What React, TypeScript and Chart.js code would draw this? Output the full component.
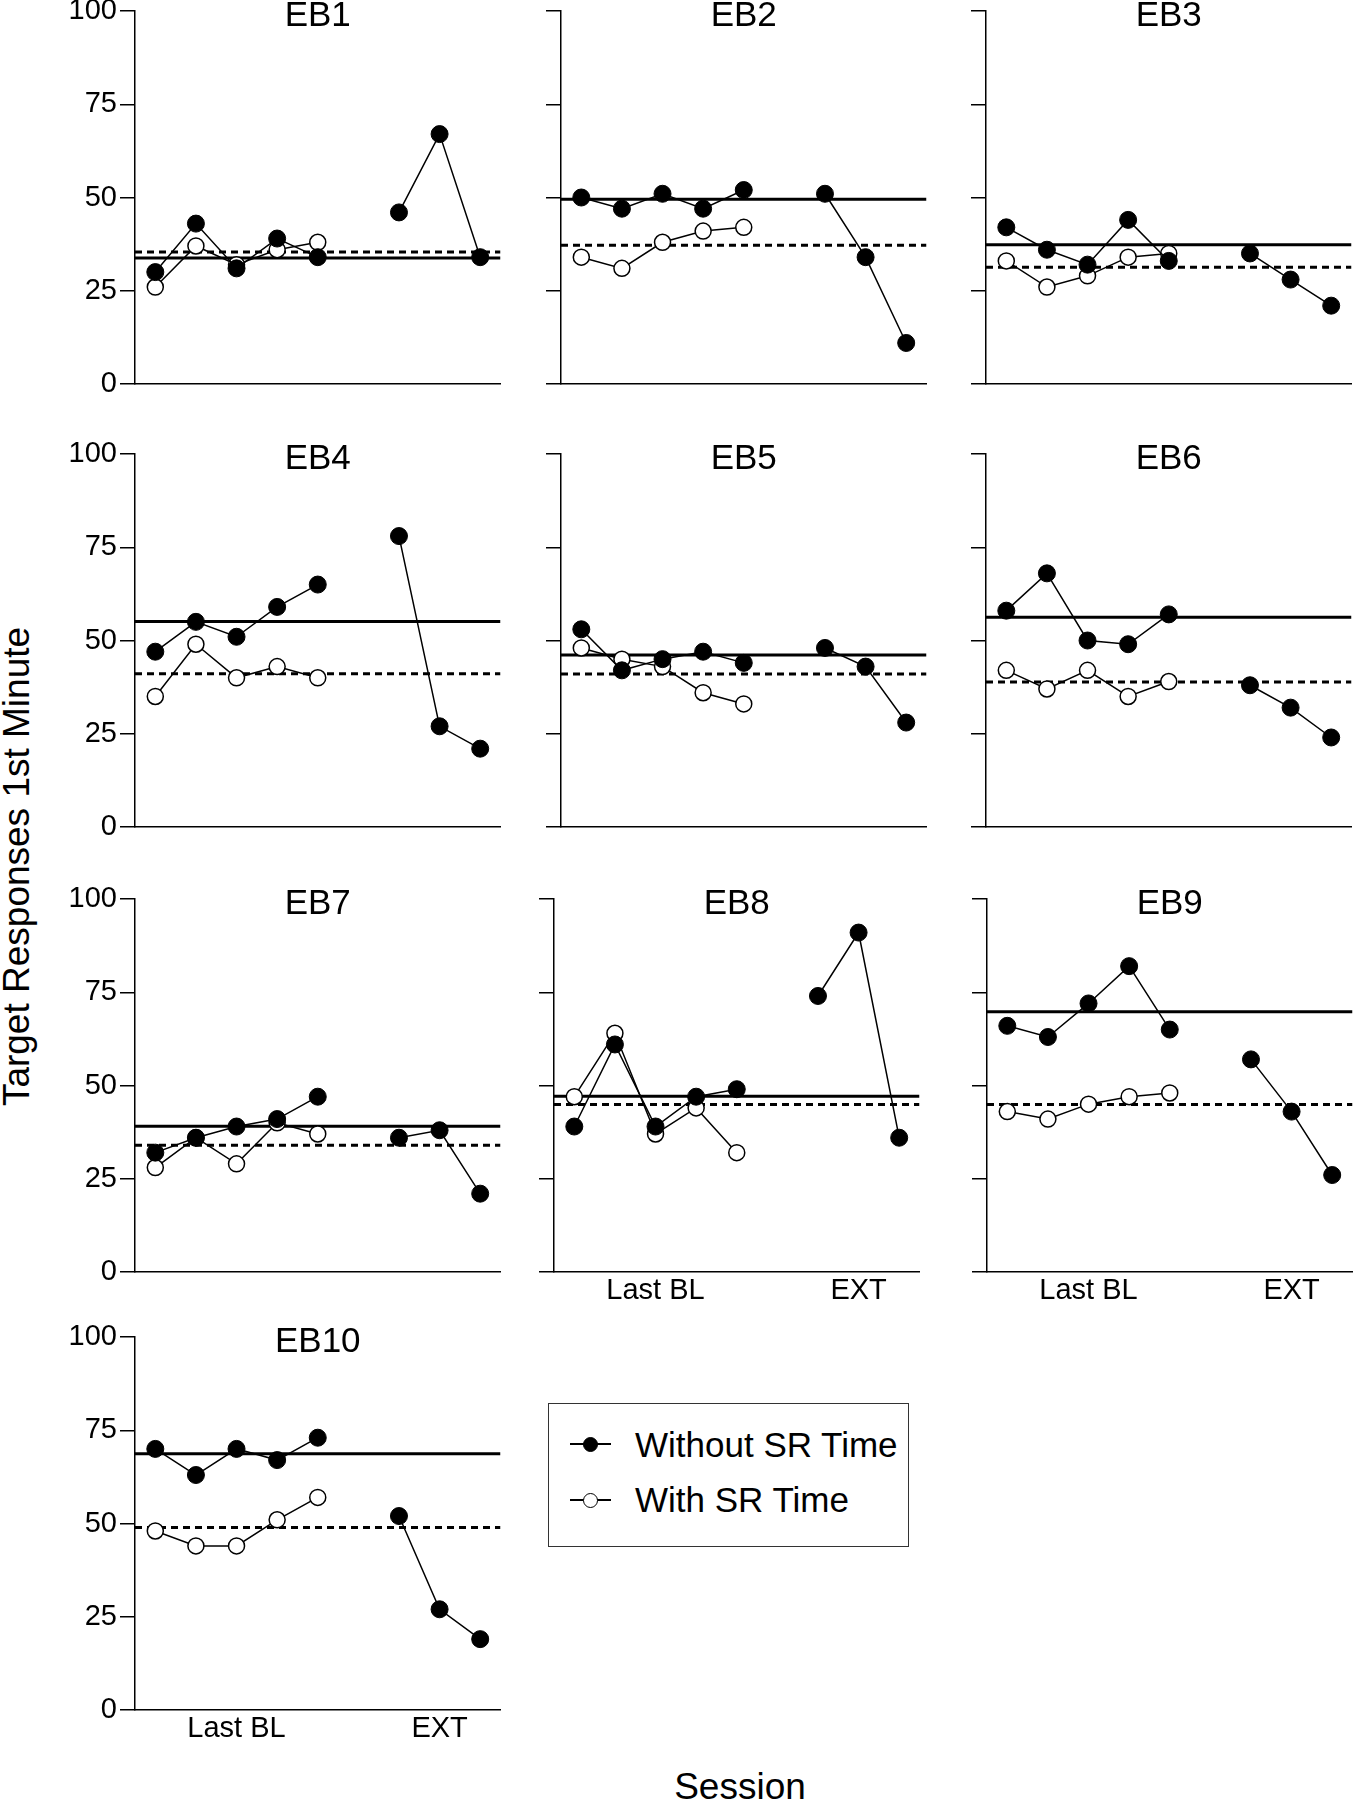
import React, { useEffect, useRef } from 'react';
import { Chart, registerables } from 'chart.js';

Chart.register(...registerables);

// ---------------- data ----------------
const PARTICIPANTS = ['EB1', 'EB2', 'EB3', 'EB4', 'EB5', 'EB6', 'EB7', 'EB8', 'EB9', 'EB10'];
const BL_SESSIONS = [1, 2, 3, 4, 5];
const GAP_SESSION = 6;
const EXT_SESSIONS = [7, 8, 9];
const X_MIN = 0.5;
const X_MAX = 9.5;
const PHASE_TICKS = [3, 8];
const PHASE_LABELS = ['Last BL', 'EXT'];
const Y_MIN = 0;
const Y_MAX = 100;
const Y_STEP = 25;

const WITHOUT_SR_BL = [
  [30, 43, 31, 39, 34],
  [50, 47, 51, 47, 52],
  [42, 36, 32, 44, 33],
  [47, 55, 51, 59, 65],
  [53, 42, 45, 47, 44],
  [58, 68, 50, 49, 57],
  [32, 36, 39, 41, 47],
  [39, 61, 39, 47, 49],
  [66, 63, 72, 82, 65],
  [70, 63, 70, 67, 73],
];
const WITHOUT_SR_EXT = [
  [46, 67, 34],
  [51, 34, 11],
  [35, 28, 21],
  [78, 27, 21],
  [48, 43, 28],
  [38, 32, 24],
  [36, 38, 21],
  [74, 91, 36],
  [57, 43, 26],
  [52, 27, 19],
];
const WITH_SR_BL = [
  [26, 37, 32, 36, 38],
  [34, 31, 38, 41, 42],
  [33, 26, 29, 34, 35],
  [35, 49, 40, 43, 40],
  [48, 45, 43, 36, 33],
  [42, 37, 42, 35, 39],
  [28, 36, 29, 40, 37],
  [47, 64, 37, 44, 32],
  [43, 41, 45, 47, 48],
  [48, 44, 44, 51, 57],
];
// horizontal reference lines (solid = Without SR Time, dashed = With SR Time)
const WITHOUT_SR_MEAN = [33.8, 49.5, 37.3, 55.1, 46.1, 56.2, 39.1, 47.1, 69.8, 68.7];
const WITH_SR_MEAN = [35.4, 37.2, 31.3, 41.1, 41.0, 38.9, 34.0, 44.9, 44.9, 48.9];

const SERIES_LABELS = ['Without SR Time', 'With SR Time'];
const Y_TITLE = 'Target Responses 1st Minute';
const X_TITLE = 'Session';

// ---------------- layout ----------------
const FONT = '"Liberation Sans", Arial, Helvetica, sans-serif';
const PLOT_LEFT = [135, 561, 986, 135, 561, 986, 135, 554, 987, 135];
const PLOT_TOP = [11, 11, 11, 454, 454, 454, 899, 899, 899, 1337];
const PLOT_W = 373;
const PLOT_H = 373;
const Y_AXIS_W = 75;
const TOP_PAD = 12;
const RIGHT_PAD = 2;
const X_AXIS_H = 50;
const LABEL_COLS = [0, 3, 6, 9];
const BOTTOM_PANELS = [7, 8, 9];

Chart.defaults.font.family = FONT;
Chart.defaults.color = '#000';

function Panel({ idx }: { idx: number }) {
  const ref = useRef<HTMLCanvasElement | null>(null);
  const W = Y_AXIS_W + PLOT_W + RIGHT_PAD;
  const H = TOP_PAD + PLOT_H + X_AXIS_H;
  const left = PLOT_LEFT[idx] - Y_AXIS_W;
  const top = PLOT_TOP[idx] - TOP_PAD;

  useEffect(() => {
    const canvas = ref.current;
    if (!canvas) return;
    const name = PARTICIPANTS[idx];
    const showY = LABEL_COLS.includes(idx);
    const showX = BOTTOM_PANELS.includes(idx);

    const withoutData: any[] = [
      ...BL_SESSIONS.map((s, i) => ({ x: s, y: WITHOUT_SR_BL[idx][i] })),
      { x: GAP_SESSION, y: null },
      ...EXT_SESSIONS.map((s, i) => ({ x: s, y: WITHOUT_SR_EXT[idx][i] })),
    ];
    const withData = BL_SESSIONS.map((s, i) => ({ x: s, y: WITH_SR_BL[idx][i] }));
    const m1 = WITHOUT_SR_MEAN[idx];
    const m2 = WITH_SR_MEAN[idx];

    const titlePlugin = {
      id: 'panelTitle',
      afterDraw(chart: any) {
        const { ctx, chartArea } = chart;
        ctx.save();
        ctx.font = `35px ${FONT}`;
        ctx.fillStyle = '#000';
        ctx.textAlign = 'center';
        ctx.textBaseline = 'alphabetic';
        ctx.fillText(name, (chartArea.left + chartArea.right) / 2, chartArea.top + 15);
        ctx.restore();
      },
    };

    const chart = new Chart(canvas, {
      type: 'line',
      data: {
        datasets: [
          {
            label: SERIES_LABELS[0],
            data: withoutData,
            borderColor: '#000',
            backgroundColor: '#000',
            borderWidth: 1.5,
            pointRadius: 8.5,
            pointHoverRadius: 8.5,
            pointBackgroundColor: '#000',
            pointBorderColor: '#000',
            pointBorderWidth: 1,
            tension: 0,
            spanGaps: false,
            clip: false,
          },
          {
            label: SERIES_LABELS[1],
            data: withData,
            borderColor: '#000',
            backgroundColor: '#fff',
            borderWidth: 1.5,
            pointRadius: 8,
            pointHoverRadius: 8,
            pointBackgroundColor: '#fff',
            pointBorderColor: '#000',
            pointBorderWidth: 1.5,
            tension: 0,
            clip: false,
          },
          {
            label: 'mean ' + SERIES_LABELS[0],
            data: [
              { x: X_MIN, y: m1 },
              { x: X_MAX, y: m1 },
            ],
            borderColor: '#000',
            borderWidth: 3,
            pointRadius: 0,
            pointHoverRadius: 0,
            tension: 0,
          },
          {
            label: 'mean ' + SERIES_LABELS[1],
            data: [
              { x: X_MIN, y: m2 },
              { x: X_MAX, y: m2 },
            ],
            borderColor: '#000',
            borderWidth: 3,
            borderDash: [7, 5],
            pointRadius: 0,
            pointHoverRadius: 0,
            tension: 0,
          },
        ],
      },
      options: {
        animation: false,
        responsive: false,
        maintainAspectRatio: false,
        events: [],
        layout: { padding: { top: TOP_PAD, right: RIGHT_PAD, left: 0, bottom: 0 } },
        plugins: {
          legend: { display: false },
          tooltip: { enabled: false },
          title: { display: false },
        },
        scales: {
          x: {
            type: 'linear',
            min: X_MIN,
            max: X_MAX,
            grid: { display: false, drawTicks: false },
            border: { display: true, color: '#000', width: 1.5 },
            afterBuildTicks: (scale: any) => {
              scale.ticks = PHASE_TICKS.map((v) => ({ value: v }));
            },
            ticks: {
              display: showX,
              autoSkip: false,
              maxRotation: 0,
              padding: 2,
              font: { size: 29, family: FONT },
              color: '#000',
              callback: (v: any) => {
                const i = PHASE_TICKS.indexOf(Number(v));
                return i >= 0 ? PHASE_LABELS[i] : '';
              },
            },
            afterFit: (scale: any) => {
              scale.height = X_AXIS_H;
              scale.paddingLeft = 0;
              scale.paddingRight = 0;
            },
          },
          y: {
            type: 'linear',
            min: Y_MIN,
            max: Y_MAX,
            grid: {
              display: true,
              drawOnChartArea: false,
              drawTicks: true,
              tickLength: 15,
              color: '#000',
              lineWidth: 1.5,
            },
            border: { display: true, color: '#000', width: 1.5 },
            ticks: {
              display: showY,
              stepSize: Y_STEP,
              padding: 3,
              font: { size: 29, family: FONT },
              color: '#000',
            },
            afterFit: (scale: any) => {
              scale.width = Y_AXIS_W;
              scale.paddingTop = 0;
              scale.paddingBottom = 0;
            },
          },
        },
      } as any,
      plugins: [titlePlugin],
    });
    return () => chart.destroy();
  }, [idx]);

  return (
    <canvas
      ref={ref}
      width={W}
      height={H}
      style={{ position: 'absolute', left, top, width: W, height: H }}
    />
  );
}

function LegendRow({ y, filled, label }: { y: number; filled: boolean; label: string }) {
  return (
    <>
      <div
        style={{
          position: 'absolute',
          left: 570,
          top: Math.round(y) - 1,
          width: 41,
          height: 2,
          background: '#000',
        }}
      />
      <div
        style={{
          position: 'absolute',
          left: 590 - 7.5,
          top: Math.round(y) - 7.5,
          width: 15,
          height: 15,
          borderRadius: '50%',
          boxSizing: 'border-box',
          background: filled ? '#000' : '#fff',
          border: '1.5px solid #000',
        }}
      />
      <div
        style={{
          position: 'absolute',
          left: 635,
          top: y + 12.5 - 29.6,
          fontSize: 35,
          lineHeight: '35px',
          whiteSpace: 'nowrap',
          color: '#000',
        }}
      >
        {label}
      </div>
    </>
  );
}

export default function App() {
  return (
    <div
      style={{
        position: 'absolute',
        left: 0,
        top: 0,
        width: 1363,
        height: 1800,
        overflow: 'hidden',
        background: '#fff',
        fontFamily: FONT,
      }}
    >
      {PARTICIPANTS.map((p, i) => (
        <Panel key={p} idx={i} />
      ))}

      <div
        style={{
          position: 'absolute',
          left: 548,
          top: 1403,
          width: 361,
          height: 144,
          boxSizing: 'border-box',
          border: '1.5px solid #333',
        }}
      />
      <LegendRow y={1444} filled={true} label={SERIES_LABELS[0]} />
      <LegendRow y={1499.5} filled={false} label={SERIES_LABELS[1]} />

      <div
        style={{
          position: 'absolute',
          left: 16.4 - 300,
          top: 866 - 18.5,
          width: 600,
          height: 37,
          lineHeight: '37px',
          fontSize: 37,
          textAlign: 'center',
          whiteSpace: 'nowrap',
          transform: 'rotate(-90deg)',
          color: '#000',
        }}
      >
        {Y_TITLE}
      </div>

      <div
        style={{
          position: 'absolute',
          left: 740 - 200,
          top: 1799 - 31.3,
          width: 400,
          lineHeight: '37px',
          fontSize: 37,
          textAlign: 'center',
          whiteSpace: 'nowrap',
          color: '#000',
        }}
      >
        {X_TITLE}
      </div>
    </div>
  );
}
